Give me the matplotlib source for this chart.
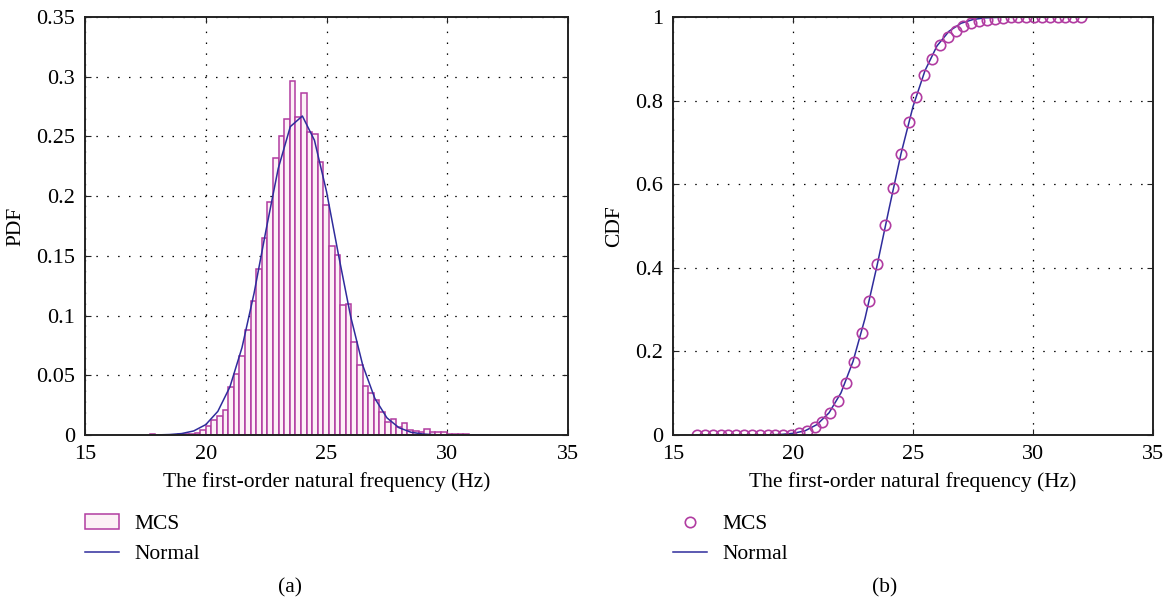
import numpy as np
import matplotlib
matplotlib.use('Agg')
import matplotlib.pyplot as plt

plt.rcParams['font.family'] = ['Liberation Serif', 'DejaVu Serif']

# histogram (MCS) - bins start at 17.68 Hz, width 0.232 Hz
bin_start = 17.68
bin_width = 0.232
pdf_heights = [0.0006, 0, 0, 0, 0, 0.0005, 0.0008, 0.001, 0.002, 0.004,
               0.0075, 0.0126, 0.016, 0.021, 0.040, 0.051, 0.066, 0.088, 0.112, 0.139,
               0.165, 0.195, 0.232, 0.250, 0.265, 0.2967, 0.266, 0.2866, 0.254, 0.252,
               0.229, 0.1926, 0.158, 0.151, 0.109, 0.110, 0.078, 0.059, 0.041, 0.0354,
               0.0293, 0.019, 0.0106, 0.0134, 0.007, 0.0098, 0.0042, 0.0036, 0.0025, 0.0047,
               0.0025, 0.0022, 0.0022, 0.001, 0.0008, 0.0005, 0.0005, 0.0003, 0.0003, 0.0002,
               0.0003]

# normal fit, pdf
pdf_x = [17.7, 18, 18.5, 19, 19.5, 20, 20.5, 21, 21.5, 22, 22.5, 23, 23.5, 24,
         24.5, 25, 25.5, 26, 26.5, 27, 27.5, 28, 28.5, 29, 29.5, 30, 31, 31.7]
pdf_normal = [0.0, 0.0001, 0.0004, 0.0012, 0.0034, 0.0087, 0.0198, 0.0403, 0.0732,
              0.1187, 0.1721, 0.2231, 0.2582, 0.2671, 0.2468, 0.2039, 0.1504, 0.0992,
              0.0584, 0.0307, 0.0144, 0.0061, 0.0023, 0.0008, 0.0002, 0.0, 0.0, 0.0]

# MCS cdf points, 50 points from 16 to 32 Hz
cdf_mcs = [0, 0, 0, 0, 0, 0, 0, 0, 0, 0,
           0, 0, 0.001, 0.004, 0.010, 0.018, 0.030, 0.053, 0.082, 0.124,
           0.175, 0.243, 0.321, 0.409, 0.502, 0.590, 0.672, 0.748, 0.809, 0.861,
           0.899, 0.933, 0.953, 0.967, 0.979, 0.985, 0.990, 0.994, 0.996, 0.998,
           0.999, 0.999, 1, 1, 1, 1, 1, 1, 1, 1]

# normal fit, cdf
cdf_x = [16, 17, 18, 19, 19.5, 20, 20.5, 21, 21.5, 22, 22.5, 23, 23.5, 24,
         24.5, 25, 25.5, 26, 26.5, 27, 27.5, 28, 28.5, 29, 30, 31, 32]
cdf_normal = [0, 0, 0, 0.0004, 0.0013, 0.004, 0.010, 0.025, 0.053, 0.101, 0.176,
              0.279, 0.405, 0.541, 0.673, 0.786, 0.872, 0.931, 0.966, 0.985, 0.994,
              0.998, 0.999, 1.0, 1.0, 1.0, 1.0]

bar_face = '#fcf1f6'
bar_edge = '#b13ca1'
line_col = '#2f2c9c'
fs = 15.5
tfs = 16

fig = plt.figure(figsize=(11.68, 6.03), dpi=100)
ax1 = fig.add_axes([0.0728, 0.2786, 0.4135, 0.6932])
ax2 = fig.add_axes([0.5762, 0.2786, 0.411, 0.6932])

edges = bin_start + bin_width * np.arange(len(pdf_heights))
h1 = ax1.bar(edges, pdf_heights, width=bin_width, align='edge', color=bar_face,
             edgecolor=bar_edge, linewidth=1.1, label='MCS', zorder=2)
l1, = ax1.plot(pdf_x, pdf_normal, color=line_col, lw=1.1, label='Normal', zorder=3)
ax1.set_xlim(15, 35)
ax1.set_ylim(0, 0.35)
ax1.set_xticks([15, 20, 25, 30, 35])
ax1.set_yticks([0, 0.05, 0.1, 0.15, 0.2, 0.25, 0.3, 0.35])
ax1.set_yticklabels(['0', '0.05', '0.1', '0.15', '0.2', '0.25', '0.3', '0.35'])
ax1.set_ylabel('PDF', fontsize=fs, labelpad=8)

cdf_xp = np.linspace(16, 32, len(cdf_mcs))
h2, = ax2.plot(cdf_xp, cdf_mcs, 'o', mfc='none', mec=bar_edge, mew=1.2, ms=7.5,
               label='MCS', zorder=3)
l2, = ax2.plot(cdf_x, cdf_normal, color=line_col, lw=1.1, label='Normal', zorder=2)
ax2.set_xlim(15, 35)
ax2.set_ylim(0, 1)
ax2.set_xticks([15, 20, 25, 30, 35])
ax2.set_yticks([0, 0.2, 0.4, 0.6, 0.8, 1])
ax2.set_yticklabels(['0', '0.2', '0.4', '0.6', '0.8', '1'])
ax2.set_ylabel('CDF', fontsize=fs, labelpad=8)

for ax, hs in ((ax1, [h1, l1]), (ax2, [h2, l2])):
    ax.set_xlabel('The first-order natural frequency (Hz)', fontsize=fs, labelpad=6)
    ax.grid(True, color='k', linestyle=(0, (1.2, 7.5)), linewidth=0.9)
    ax.set_axisbelow(True)
    ax.tick_params(direction='in', top=True, right=True, length=4, pad=7,
                   labelsize=tfs, color='#222222')
    for s in ax.spines.values():
        s.set_linewidth(1.4)
        s.set_color('#222222')
        s.set_zorder(5)
    ax.legend(handles=hs, loc='upper left', bbox_to_anchor=(0.0, -0.19), frameon=False,
              fontsize=fs, borderaxespad=0, borderpad=0, handlelength=1.6,
              handletextpad=0.7, labelspacing=0.45)

fig.text(0.2485, 0.018, '(a)', fontsize=fs, ha='center')
fig.text(0.757, 0.018, '(b)', fontsize=fs, ha='center')

fig.savefig('out.png', dpi=100)
